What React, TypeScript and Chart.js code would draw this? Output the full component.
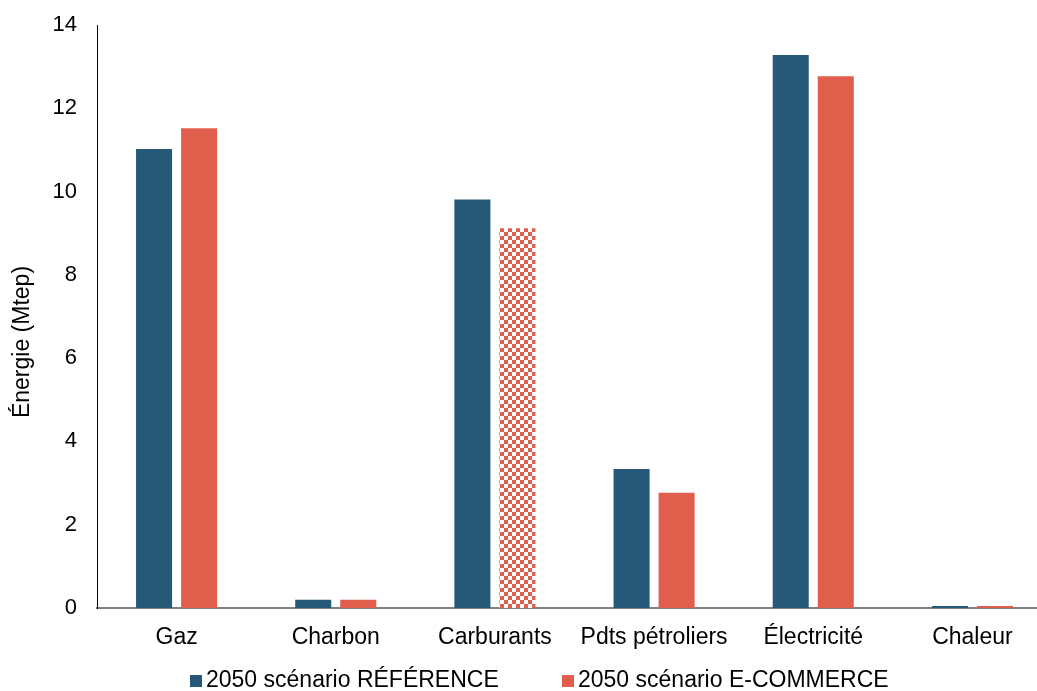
import React, { useEffect, useRef } from "react";
import { Chart, registerables } from "chart.js";

Chart.register(...registerables);

const categories = ["Gaz", "Charbon", "Carburants", "Pdts pétroliers", "Électricité", "Chaleur"];
const refValues = [11.02, 0.2, 9.81, 3.34, 13.28, 0.05];
const ecomValues = [11.52, 0.2, 9.12, 2.77, 12.77, 0.05];
const seriesNames = ["2050 scénario RÉFÉRENCE", "2050 scénario E-COMMERCE"];
const yTicks = [0, 2, 4, 6, 8, 10, 12, 14];
const yTitle = "Énergie (Mtep)";

const REF_COLOR = "#265877";
const ECOM_COLOR = "#E05E4C";
const FONT = "'Liberation Sans', Arial, sans-serif";
const FS = 22;
const CANVAS_W = 1052;

function makeChecker(): CanvasPattern | string {
  const c = document.createElement("canvas");
  c.width = 8;
  c.height = 8;
  const ctx = c.getContext("2d");
  if (!ctx) return ECOM_COLOR;
  ctx.fillStyle = "#ffffff";
  ctx.fillRect(0, 0, 8, 8);
  ctx.fillStyle = ECOM_COLOR;
  ctx.fillRect(0, 0, 4, 4);
  ctx.fillRect(4, 4, 4, 4);
  const p = ctx.createPattern(c, "repeat");
  return p || ECOM_COLOR;
}

const extrasPlugin = {
  id: "extras",
  afterDraw(chart: any) {
    const ctx = chart.ctx as CanvasRenderingContext2D;
    ctx.save();
    ctx.font = `${FS + 1}px ${FONT}`;
    ctx.fillStyle = "#000";
    ctx.textAlign = "center";
    ctx.textBaseline = "middle";
    ctx.translate(23, 342);
    ctx.rotate(-Math.PI / 2);
    ctx.fillText(yTitle, 0, 0);
    ctx.restore();

    ctx.save();
    ctx.font = `${FS + 1}px ${FONT}`;
    ctx.textBaseline = "middle";
    ctx.textAlign = "left";
    const starts = [190, 562];
    const colors = [REF_COLOR, ECOM_COLOR];
    const cy = 681;
    seriesNames.forEach((name, i) => {
      const x = starts[i];
      ctx.fillStyle = colors[i];
      ctx.fillRect(x, cy - 6, 12, 12);
      ctx.fillStyle = "#000";
      ctx.fillText(name, x + 16, cy);
    });
    ctx.restore();
  },
};

export default function App() {
  const ref = useRef<HTMLCanvasElement | null>(null);
  useEffect(() => {
    document.body.style.margin = "0";
    if (!ref.current) return;
    const checker = makeChecker();
    const ecomColors = categories.map((c) => (c === "Carburants" ? checker : ECOM_COLOR));
    const chart = new Chart(ref.current, {
      type: "bar",
      data: {
        labels: categories,
        datasets: [
          {
            label: seriesNames[0],
            data: refValues,
            backgroundColor: REF_COLOR,
            categoryPercentage: 0.566,
            barPercentage: 0.8,
          },
          {
            label: seriesNames[1],
            data: ecomValues,
            backgroundColor: ecomColors as any,
            categoryPercentage: 0.566,
            barPercentage: 0.8,
          },
        ],
      },
      plugins: [extrasPlugin],
      options: {
        animation: false,
        responsive: false,
        maintainAspectRatio: false,
        layout: { padding: { top: 25, right: 0, left: 0, bottom: 33 } },
        plugins: {
          tooltip: { enabled: false },
          legend: { display: false },
        },
        scales: {
          x: {
            afterFit: (s: any) => {
              s.height = 50;
              s.paddingLeft = 0;
              s.paddingRight = 0;
            },
            grid: { display: false, drawTicks: false },
            border: { display: true, color: "#808080", width: 2 },
            ticks: { font: { family: FONT, size: FS + 1 }, color: "#000", padding: 16 },
          },
          y: {
            min: 0,
            max: 14,
            afterBuildTicks: (s: any) => {
              s.ticks = yTicks.map((v) => ({ value: v }));
            },
            afterFit: (s: any) => {
              s.width = 97;
              s.paddingTop = 0;
              s.paddingBottom = 0;
            },
            grid: { display: false, drawTicks: false },
            border: { display: true, color: "#000", width: 1 },
            ticks: { font: { family: FONT, size: FS }, color: "#000", padding: 20 },
          },
        },
      },
    });
    return () => chart.destroy();
  }, []);
  return (
    <div style={{ width: 1037, height: 691, overflow: "hidden" }}>
      <canvas ref={ref} width={CANVAS_W} height={691} style={{ display: "block" }} />
    </div>
  );
}
